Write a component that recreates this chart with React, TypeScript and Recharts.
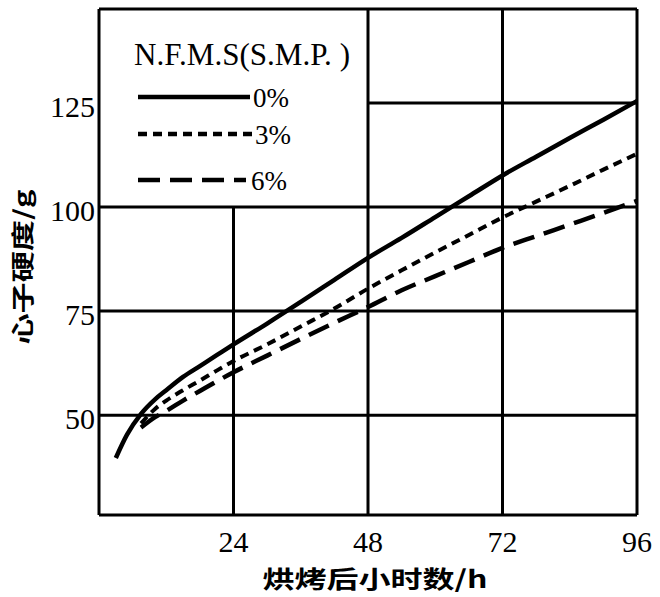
import React from "react";
import {
  LineChart,
  Line,
  XAxis,
  YAxis,
  ReferenceLine,
  Legend,
} from "recharts";

// hours after baking
const hours = [3, 5, 7.5, 10, 12, 15, 18, 21, 24, 30, 36, 42, 48, 54, 60, 66, 72, 78, 84, 90, 96];
// crumb hardness (g) by N.F.M.S level
const hard0 = [39.7, 45.3, 50.3, 53.8, 56, 59.2, 61.8, 64.4, 67, 72, 77.2, 82.5, 87.8, 92.6, 97.6, 102.6, 107.6, 112.1, 116.6, 121, 125.5];
const hard3 = [null, null, 48, 51.5, 53.5, 56, 58.3, 60.7, 63, 67, 71.3, 75.6, 80.4, 84.8, 89.1, 93.3, 97.5, 101.3, 105.1, 109, 112.8];
const hard6 = [null, null, 47, 49.5, 51, 53.5, 55.8, 58.1, 60.3, 64.3, 68.3, 72.2, 76, 80, 83.4, 86.8, 90.2, 93, 95.8, 98.6, 101.5];

const xTicks = [24, 48, 72, 96];
const yTicks = [50, 75, 100, 125];
const legendTitle = "N.F.M.S(S.M.P. )";
const seriesNames = ["0%", "3%", "6%"];

const data = hours.map((h, i) => ({
  h,
  s0: hard0[i],
  s3: hard3[i],
  s6: hard6[i],
}));

const serif = "'Liberation Serif', 'DejaVu Serif', serif";
const cjk = "'Noto Sans CJK SC', sans-serif";
const dash3 = "9 6";
const dash6 = "22 10";

function YLabel(props: any) {
  const vb = props.viewBox || {};
  const cx = vb.x + 21;
  const cy = 267;
  return (
    <text
      x={cx}
      y={cy}
      transform={`rotate(-90 ${cx} ${cy})`}
      textAnchor="middle"
      dominantBaseline="central"
      fontFamily={cjk}
      fontSize={23}
      fontWeight={700}
      textLength={155}
      lengthAdjust="spacingAndGlyphs"
      fill="#000"
    >
      心子硬度/g
    </text>
  );
}

function XLabel() {
  return (
    <text
      x={375}
      y={577}
      textAnchor="middle"
      dominantBaseline="central"
      fontFamily={cjk}
      fontSize={24}
      fontWeight={700}
      textLength={225}
      lengthAdjust="spacingAndGlyphs"
      fill="#000"
    >
      烘烤后小时数/h
    </text>
  );
}

function LegendBox() {
  const rows = [
    { y: 97, x2: 250, dash: undefined, tx: 253 },
    { y: 134, x2: 254, dash: dash3, tx: 255 },
    { y: 180, x2: 246, dash: dash6, tx: 251 },
  ];
  return (
    <svg width={660} height={220} style={{ display: "block" }}>
      <text
        x={134}
        y={65}
        fontFamily={serif}
        fontSize={31}
        textLength={216}
        lengthAdjust="spacingAndGlyphs"
        fill="#000"
      >
        {legendTitle}
      </text>
      {rows.map((r, i) => (
        <g key={i}>
          <line
            x1={138}
            x2={r.x2}
            y1={r.y}
            y2={r.y}
            stroke="#000"
            strokeWidth={4.5}
            strokeDasharray={r.dash}
          />
          <text x={r.tx} y={r.y + 10} fontFamily={serif} fontSize={27} fill="#000">
            {seriesNames[i]}
          </text>
        </g>
      ))}
    </svg>
  );
}

export default function App() {
  const grid = { stroke: "#000", strokeWidth: 3 };
  const tick = { fontSize: 30, fill: "#000", fontFamily: serif };
  return (
    <div style={{ position: "absolute", left: 0, top: 0, width: 660, height: 597, background: "#fff" }}>
      <LineChart
        width={660}
        height={597}
        data={data}
        margin={{ top: 9, right: 23, bottom: 42, left: 0 }}
      >
        <XAxis
          dataKey="h"
          type="number"
          domain={[0, 96]}
          ticks={xTicks}
          tick={tick}
          tickLine={false}
          tickSize={0}
          tickMargin={16}
          axisLine={grid}
          height={40}
          label={<XLabel />}
        />
        <YAxis
          type="number"
          domain={[26, 147.6]}
          ticks={yTicks}
          tick={{ ...tick, dy: 3 }}
          tickLine={false}
          tickSize={0}
          tickMargin={4}
          axisLine={grid}
          width={99}
          label={<YLabel />}
        />
        {/* frame */}
        <ReferenceLine segment={[{ x: 0, y: 147.6 }, { x: 96, y: 147.6 }]} {...grid} />
        <ReferenceLine segment={[{ x: 96, y: 26 }, { x: 96, y: 147.6 }]} {...grid} />
        {/* grid, left-top part left open for the legend */}
        <ReferenceLine y={50} {...grid} />
        <ReferenceLine y={75} {...grid} />
        <ReferenceLine y={100} {...grid} />
        <ReferenceLine segment={[{ x: 48, y: 125 }, { x: 96, y: 125 }]} {...grid} />
        <ReferenceLine segment={[{ x: 24, y: 26 }, { x: 24, y: 100 }]} {...grid} />
        <ReferenceLine x={48} {...grid} />
        <ReferenceLine x={72} {...grid} />
        <Legend
          layout="horizontal"
          verticalAlign="middle"
          align="center"
          wrapperStyle={{ left: 0, top: 0, width: 660, height: 220 }}
          content={() => <LegendBox />}
        />
        <Line
          dataKey="s0"
          name={seriesNames[0]}
          type="monotone"
          stroke="#000"
          strokeWidth={4.5}
          dot={false}
          connectNulls
          isAnimationActive={false}
        />
        <Line
          dataKey="s3"
          name={seriesNames[1]}
          type="monotone"
          stroke="#000"
          strokeWidth={4}
          strokeDasharray={dash3}
          dot={false}
          connectNulls
          isAnimationActive={false}
        />
        <Line
          dataKey="s6"
          name={seriesNames[2]}
          type="monotone"
          stroke="#000"
          strokeWidth={4.5}
          strokeDasharray={dash6}
          dot={false}
          connectNulls
          isAnimationActive={false}
        />
      </LineChart>
    </div>
  );
}
